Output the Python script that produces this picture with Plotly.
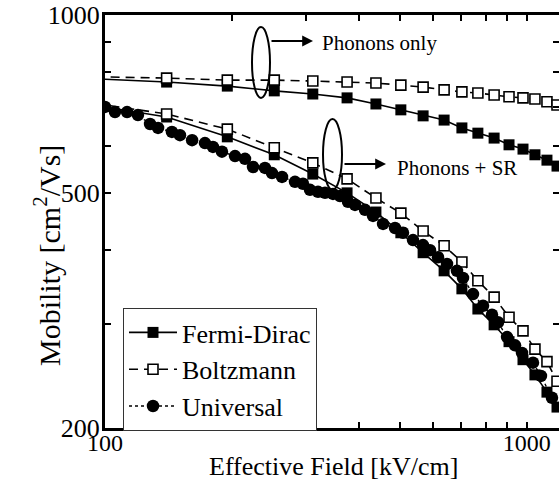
import plotly.graph_objects as go
import math

# ---- data ----
field_grid = [95, 140, 195, 252, 311, 375, 439, 503, 568, 637, 702, 766, 837, 908, 980, 1046, 1117, 1180]
mu_fd_phonon = [780, 770, 758, 744, 735, 724, 707, 691, 675, 664, 644, 631, 619, 603, 593, 580, 568, 555]
mu_bz_phonon = [786, 782, 776, 776, 773, 770, 767, 761, 755, 747, 741, 738, 732, 727, 724, 721, 713, 704]
mu_fd_sr = [703, 672, 622, 580, 538, 500, 464, 428, 396, 369, 344, 318, 299, 280, 261, 246, 230, 217]
mu_bz_sr = [708, 680, 641, 596, 562, 528, 490, 462, 431, 407, 382, 355, 333, 308, 292, 272, 259, 240]

field_univ = [100, 105.6, 112.8, 119.7, 127.9, 133.6, 144.1, 150.6, 160.9, 172.6, 180.3, 189.4,
              203.4, 214.8, 224.4, 239.5, 248.9, 262.9, 282.2, 294.8, 306.3, 320.0, 332.5, 347.3,
              360.8, 376.9, 391.6, 413.6, 432.1, 456.4, 487.2, 508.9, 537.5, 567.6, 589.8, 616.1,
              647.1, 683.4, 706.2, 745.9, 787.8, 827.4, 855.0, 898.2, 938.3, 974.8, 1035, 1081, 1148]
mu_univ = [699, 685, 685, 677, 654, 644, 634, 626, 614, 607, 598, 587,
           577, 571, 553, 551, 540, 532, 522, 518, 506, 502, 500, 498,
           494, 483, 477, 468, 457, 443, 436, 428, 416, 408, 400, 389,
           379, 369, 359, 337, 322, 311, 302, 285, 276, 268, 258, 245, 225]

x_tickvals = [100, 200, 300, 400, 500, 600, 700, 800, 900, 1000]
x_ticktext = ["100", "", "", "", "", "", "", "", "", "1000"]
y_tickvals = [200, 300, 400, 500, 600, 700, 800, 900, 1000]
y_ticktext = ["200", "", "", "500", "", "", "", "", "1000"]

FONT = "Liberation Serif"
W, H = 559, 486
ML, MT, MB, MR = 105, 15, 486 - 428, 0
PW, PH = W - ML - MR, H - MT - MB   # 454 x 413


def px(xp):   # page x pixel -> paper
    return (xp - ML) / PW


def py(yp):   # page y pixel -> paper
    return (H - MB - yp) / PH


fig = go.Figure()

fd_marker = dict(symbol="square", size=11, color="black")
bz_marker = dict(symbol="square", size=10, color="white", line=dict(color="black", width=1.6))
un_marker = dict(symbol="circle", size=12.5, color="black")

fig.add_trace(go.Scatter(x=field_grid, y=mu_fd_phonon, mode="lines+markers", name="Fermi-Dirac",
                         legendgroup="fd", line=dict(color="black", width=1.6), marker=fd_marker))
fig.add_trace(go.Scatter(x=field_grid, y=mu_fd_sr, mode="lines+markers", name="Fermi-Dirac",
                         legendgroup="fd", showlegend=False, line=dict(color="black", width=1.6), marker=fd_marker))
fig.add_trace(go.Scatter(x=field_grid, y=mu_bz_phonon, mode="lines+markers", name="Boltzmann",
                         legendgroup="bz", line=dict(color="black", width=1.6, dash="9px,6px"), marker=bz_marker))
fig.add_trace(go.Scatter(x=field_grid, y=mu_bz_sr, mode="lines+markers", name="Boltzmann",
                         legendgroup="bz", showlegend=False, line=dict(color="black", width=1.6, dash="9px,6px"), marker=bz_marker))
fig.add_trace(go.Scatter(x=field_univ, y=mu_univ, mode="lines+markers", name="Universal",
                         legendgroup="un", line=dict(color="black", width=1.4, dash="dot"), marker=un_marker))
# invisible helper trace so the right-hand tick axis is drawn
fig.add_trace(go.Scatter(x=[field_univ[0]], y=[mu_univ[0]], yaxis="y2", mode="markers",
                         marker=dict(opacity=0), showlegend=False, hoverinfo="skip"))

x_range = [2, 2 + PW / 421.7]
y_range = [math.log10(200), 3]

fig.update_layout(
    width=W, height=H,
    margin=dict(l=ML, r=MR, t=MT, b=MB, autoexpand=False),
    paper_bgcolor="white", plot_bgcolor="white",
    font=dict(family=FONT, color="black"),
    showlegend=True,
    legend=dict(x=px(123), y=py(308), xanchor="left", yanchor="top",
                bordercolor="#333", borderwidth=1, bgcolor="white",
                font=dict(family=FONT, size=26, color="black"), tracegroupgap=0, itemwidth=48),
    xaxis=dict(type="log", range=x_range, tickvals=x_tickvals, ticktext=x_ticktext,
               ticks="inside", ticklen=6, tickwidth=1.5, tickcolor="black",
               showline=True, linewidth=3, linecolor="black", mirror="ticks",
               showgrid=False, zeroline=False, ticklabeloverflow="allow",
               tickfont=dict(family=FONT, size=24, color="black"), ticklabelstandoff=-9),
    yaxis=dict(type="log", range=y_range, tickvals=y_tickvals, ticktext=y_ticktext,
               ticks="inside", ticklen=6, tickwidth=1.5, tickcolor="black",
               showline=True, linewidth=3, linecolor="black", ticklabeloverflow="allow",
               showgrid=False, zeroline=False,
               tickfont=dict(family=FONT, size=26, color="black"), ticklabelstandoff=-3),
    yaxis2=dict(type="log", range=y_range, overlaying="y", side="right", tickvals=y_tickvals,
                showticklabels=False, ticks="inside", ticklen=6, tickwidth=1.5, tickcolor="black",
                showline=False, showgrid=False, zeroline=False),
)

# axis titles
fig.add_annotation(text="Effective Field [kV/cm]", xref="paper", yref="paper",
                   x=px(333), y=py(466), xanchor="center", yanchor="middle", showarrow=False,
                   font=dict(family=FONT, size=26, color="black"))
fig.add_annotation(text="Mobility [cm<sup>2</sup>/Vs]", textangle=-90, xref="paper", yref="paper",
                   x=px(47), y=py(256), xanchor="center", yanchor="middle", showarrow=False,
                   font=dict(family=FONT, size=30, color="black"))

# ellipses
fig.add_shape(type="circle", xref="paper", yref="paper", x0=px(252), x1=px(270), y0=py(98), y1=py(27),
              line=dict(color="black", width=2))
fig.add_shape(type="circle", xref="paper", yref="paper", x0=px(323), x1=px(342), y0=py(190), y1=py(119),
              line=dict(color="black", width=2))

# arrows
for (x0, x1, yy) in [(270, 313, 41), (343, 386, 164)]:
    fig.add_annotation(x=px(x1), y=py(yy), xref="paper", yref="paper", ax=x0 - x1, ay=0,
                       axref="pixel", ayref="pixel", text="", showarrow=True,
                       arrowhead=2, arrowsize=1.2, arrowwidth=1.8, arrowcolor="black")

fig.add_annotation(text="Phonons only", x=px(320), y=py(43), xref="paper", yref="paper",
                   xanchor="left", yanchor="middle", showarrow=False,
                   font=dict(family=FONT, size=21, color="black"))
fig.add_annotation(text="Phonons + SR", x=px(395), y=py(168), xref="paper", yref="paper",
                   xanchor="left", yanchor="middle", showarrow=False,
                   font=dict(family=FONT, size=21, color="black"))

fig.write_html("out.html", config={"displayModeBar": False},
               post_script="document.body.style.margin='0';document.body.style.overflow='hidden';")
